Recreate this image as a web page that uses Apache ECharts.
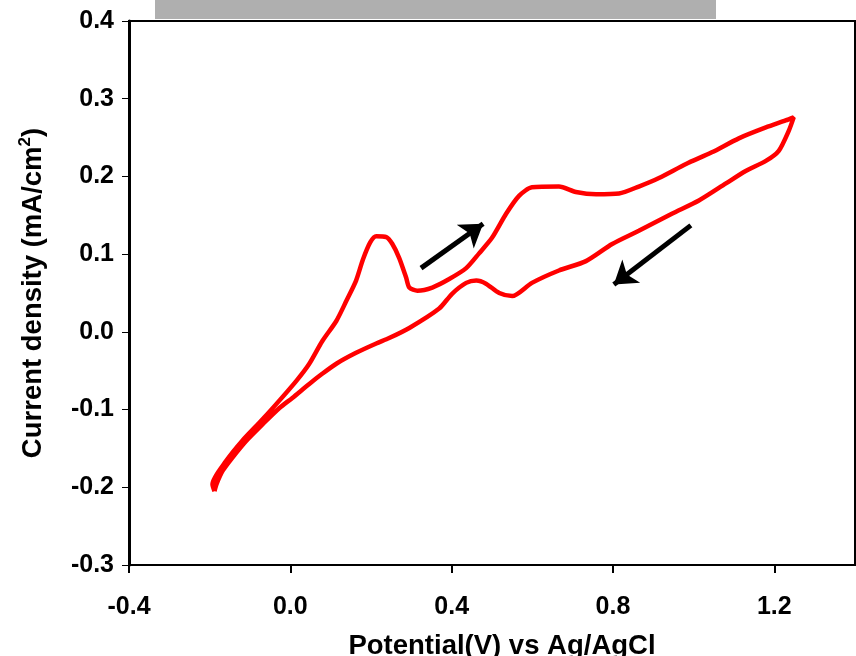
<!DOCTYPE html>
<html>
<head>
<meta charset="utf-8">
<script src="https://cdn.jsdelivr.net/npm/echarts@6/dist/echarts.min.js"></script>
<style>
  html, body { margin: 0; padding: 0; background: #fff; }
  #chart { width: 856px; height: 656px; }
</style>
</head>
<body>
<div id="chart"></div>
<script>
// anodic (forward) scan
var potentialFwd = [-0.188, -0.193, -0.159, -0.119, -0.077, -0.035, 0.015, 0.047, 0.079, 0.114, 0.139, 0.163, 0.180, 0.198, 0.213, 0.238, 0.253, 0.270, 0.287, 0.295, 0.315, 0.352, 0.394, 0.436, 0.468, 0.500, 0.535, 0.567, 0.599, 0.666, 0.708, 0.758, 0.815, 0.864, 0.914, 0.981, 1.045, 1.112, 1.179, 1.228, 1.248];
var currentFwd = [-0.205, -0.196, -0.166, -0.140, -0.117, -0.093, -0.063, -0.041, -0.012, 0.014, 0.040, 0.066, 0.093, 0.115, 0.123, 0.122, 0.113, 0.095, 0.070, 0.057, 0.053, 0.057, 0.068, 0.082, 0.101, 0.121, 0.152, 0.175, 0.186, 0.187, 0.180, 0.177, 0.178, 0.187, 0.198, 0.216, 0.231, 0.249, 0.263, 0.272, 0.276];
// cathodic (reverse) scan
var potentialRev = [1.236, 1.211, 1.179, 1.129, 1.080, 1.013, 0.946, 0.864, 0.798, 0.733, 0.666, 0.599, 0.550, 0.518, 0.485, 0.461, 0.436, 0.401, 0.369, 0.295, 0.245, 0.213, 0.163, 0.114, 0.079, 0.047, 0.005, -0.027, -0.069, -0.109, -0.144, -0.168, -0.183, -0.188];
var currentRev = [0.259, 0.233, 0.220, 0.207, 0.191, 0.169, 0.152, 0.130, 0.113, 0.091, 0.079, 0.063, 0.046, 0.050, 0.062, 0.066, 0.063, 0.049, 0.030, 0.005, -0.008, -0.015, -0.027, -0.041, -0.054, -0.067, -0.085, -0.098, -0.119, -0.140, -0.162, -0.179, -0.196, -0.205];

// scan direction arrows: [start, end]
var arrowFwd = [[0.324, 0.082], [0.478, 0.139]];
var arrowRev = [[0.993, 0.137], [0.802, 0.061]];

var xTicks = [-0.4, 0.0, 0.4, 0.8, 1.2];
var yTicks = [-0.3, -0.2, -0.1, 0.0, 0.1, 0.2, 0.3, 0.4];

var cvData = [];
potentialFwd.forEach(function (v, i) { cvData.push([v, currentFwd[i]]); });
potentialRev.forEach(function (v, i) { cvData.push([v, currentRev[i]]); });

var font = "'Liberation Sans', Arial, sans-serif";

var chart = echarts.init(document.getElementById('chart'));
chart.setOption({
  animation: false,
  backgroundColor: '#fff',
  grid: {
    left: 129, right: 1, top: 21, bottom: 91,
    outerBoundsMode: 'none',
    show: true, borderColor: '#000', borderWidth: 2
  },
  graphic: [{
    type: 'rect',
    shape: { x: 155, y: 0, width: 561, height: 19 },
    style: { fill: '#afafaf' }
  }],
  xAxis: {
    type: 'value',
    min: xTicks[0], max: 1.4, interval: 0.4,
    name: 'Potential(V) vs Ag/AgCl',
    nameLocation: 'middle', nameGap: 67,
    nameTextStyle: { color: '#000', fontWeight: 'bold', fontSize: 27.5, fontFamily: font, padding: [0, 0, 0, 20] },
    axisLine: { onZero: false, lineStyle: { color: '#000', width: 2 } },
    axisTick: { inside: false, length: 8, lineStyle: { color: '#000', width: 2 } },
    axisLabel: {
      color: '#000', fontWeight: 'bold', fontSize: 25, fontFamily: font, margin: 30,
      showMaxLabel: false,
      formatter: function (v) { return v.toFixed(1); }
    },
    splitLine: { show: false }
  },
  yAxis: {
    type: 'value',
    min: yTicks[0], max: yTicks[yTicks.length - 1], interval: 0.1,
    name: 'Current density (mA/cm{sup|2})',
    nameLocation: 'middle', nameGap: 80, nameRotate: 90,
    nameTextStyle: {
      color: '#000', fontWeight: 'bold', fontSize: 27.5, fontFamily: font,
      rich: {
        sup: { color: '#000', fontWeight: 'bold', fontSize: 17, fontFamily: font, verticalAlign: 'top', lineHeight: 32 }
      }
    },
    axisLine: { onZero: false, lineStyle: { color: '#000', width: 3 } },
    axisTick: { inside: false, length: 7, lineStyle: { color: '#000', width: 1 } },
    axisLabel: {
      color: '#000', fontWeight: 'bold', fontSize: 25, fontFamily: font, margin: 15,
      formatter: function (v) { return v.toFixed(1); }
    },
    splitLine: { show: false }
  },
  series: [
    {
      type: 'line',
      data: cvData,
      smooth: 0.25,
      symbol: 'none',
      lineStyle: { color: '#ff0000', width: 4.5 }
    },
    {
      type: 'lines',
      coordinateSystem: 'cartesian2d',
      symbol: ['none', 'arrow'],
      symbolSize: 22,
      lineStyle: { color: '#000', width: 5, opacity: 1 },
      data: [{ coords: arrowFwd }, { coords: arrowRev }]
    }
  ]
});
</script>
</body>
</html>
